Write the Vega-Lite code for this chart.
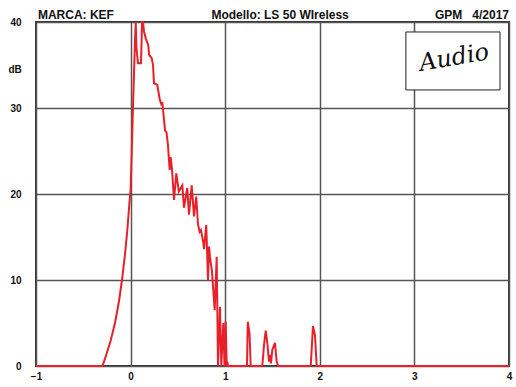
{
  "$schema": "https://vega.github.io/schema/vega-lite/v6.json",
  "autosize": "none",
  "width": 473,
  "height": 344,
  "padding": {"left": 36, "top": 22, "right": 7, "bottom": 21},
  "background": "white",
  "config": {
    "view": {"stroke": "#333333", "strokeWidth": 2},
    "font": "Liberation Sans"
  },
  "layer": [
    {
      "data": {"values": [
        {"f": -1.0, "db": 0}, {"f": -0.297, "db": 0}, {"f": -0.26, "db": 1.2}, {"f": -0.21, "db": 3},
        {"f": -0.165, "db": 5}, {"f": -0.123, "db": 7.5}, {"f": -0.091, "db": 10}, {"f": -0.059, "db": 13},
        {"f": -0.033, "db": 16}, {"f": -0.012, "db": 19}, {"f": 0.0, "db": 20.5}, {"f": 0.01, "db": 24},
        {"f": 0.02, "db": 28}, {"f": 0.025, "db": 30}, {"f": 0.036, "db": 34}, {"f": 0.047, "db": 38},
        {"f": 0.054, "db": 40}, {"f": 0.062, "db": 37}, {"f": 0.078, "db": 35.2}, {"f": 0.11, "db": 35.2},
        {"f": 0.121, "db": 40}, {"f": 0.131, "db": 40}, {"f": 0.142, "db": 38.9}, {"f": 0.16, "db": 38.1},
        {"f": 0.187, "db": 37.3}, {"f": 0.195, "db": 36.2}, {"f": 0.223, "db": 35.8}, {"f": 0.237, "db": 35.0},
        {"f": 0.247, "db": 32.9}, {"f": 0.282, "db": 32.7}, {"f": 0.308, "db": 31.0}, {"f": 0.329, "db": 30.3},
        {"f": 0.335, "db": 30.7}, {"f": 0.364, "db": 27.4}, {"f": 0.379, "db": 27.2}, {"f": 0.395, "db": 25.7},
        {"f": 0.413, "db": 22.8}, {"f": 0.424, "db": 24.3}, {"f": 0.438, "db": 22.8}, {"f": 0.459, "db": 19.3},
        {"f": 0.483, "db": 22.4}, {"f": 0.51, "db": 20.3}, {"f": 0.547, "db": 21.0}, {"f": 0.564, "db": 18.4},
        {"f": 0.599, "db": 20.7}, {"f": 0.617, "db": 17.6}, {"f": 0.646, "db": 21.0}, {"f": 0.67, "db": 17.4},
        {"f": 0.694, "db": 19.7}, {"f": 0.712, "db": 16.5}, {"f": 0.73, "db": 15.6}, {"f": 0.744, "db": 15.8},
        {"f": 0.769, "db": 14.3}, {"f": 0.776, "db": 13.6}, {"f": 0.8, "db": 16.4}, {"f": 0.818, "db": 10},
        {"f": 0.829, "db": 13.9}, {"f": 0.839, "db": 12.7}, {"f": 0.86, "db": 11}, {"f": 0.889, "db": 6.5},
        {"f": 0.91, "db": 12.7}, {"f": 0.924, "db": 0}, {"f": 0.945, "db": 6.9}, {"f": 0.959, "db": 0},
        {"f": 0.98, "db": 5}, {"f": 0.993, "db": 0}, {"f": 1.005, "db": 5.2}, {"f": 1.016, "db": 0},
        {"f": 1.022, "db": 0.5}, {"f": 1.03, "db": 0}, {"f": 1.23, "db": 0}, {"f": 1.239, "db": 5.15},
        {"f": 1.257, "db": 3.8}, {"f": 1.27, "db": 0}, {"f": 1.392, "db": 0}, {"f": 1.41, "db": 2.4},
        {"f": 1.428, "db": 4.1}, {"f": 1.445, "db": 2.7}, {"f": 1.463, "db": 0.5}, {"f": 1.474, "db": 1.3},
        {"f": 1.484, "db": 0.3}, {"f": 1.498, "db": 1.9}, {"f": 1.526, "db": 2.7}, {"f": 1.544, "db": 0.5},
        {"f": 1.561, "db": 0}, {"f": 1.904, "db": 0}, {"f": 1.928, "db": 4.65}, {"f": 1.949, "db": 3.6},
        {"f": 1.967, "db": 0}, {"f": 4.0, "db": 0}
      ]},
      "mark": {"type": "line", "color": "#e8202a", "strokeWidth": 2},
      "encoding": {
        "x": {
          "field": "f", "type": "quantitative",
          "scale": {"domain": [-1, 4], "nice": false, "zero": false},
          "axis": {
            "values": [-1, 0, 1, 2, 3, 4], "format": "d", "title": null, "domain": false, "ticks": false,
            "grid": true, "gridColor": "#555555", "gridWidth": 1.5, "gridOpacity": 1,
            "labelFont": "Liberation Sans", "labelFontSize": 10, "labelFontWeight": "bold",
            "labelColor": "#111111", "labelPadding": 5, "labelBound": false, "labelOverlap": false,
            "labelFlush": false
          }
        },
        "y": {
          "field": "db", "type": "quantitative",
          "scale": {"domain": [0, 40], "nice": false},
          "axis": {
            "values": [0, 10, 20, 30, 40], "title": "dB", "titleAngle": 0, "titleAlign": "left",
            "titleBaseline": "middle", "titleX": -28, "titleY": 47, "titleFontSize": 10,
            "titleFontWeight": "bold", "titleFont": "Liberation Sans", "titleColor": "#111111",
            "domain": false, "ticks": false,
            "grid": true, "gridColor": "#555555", "gridWidth": 1.5, "gridOpacity": 1,
            "labelFont": "Liberation Sans", "labelFontSize": 10, "labelFontWeight": "bold",
            "labelColor": "#111111", "labelPadding": 15, "labelOverlap": false
          }
        }
      }
    },
    {
      "data": {"values": [
        {"x1": 2.91, "x2": 3.905, "y1": 32.1, "y2": 38.84}
      ]},
      "mark": {"type": "rect", "fill": "white", "stroke": "#222222", "strokeWidth": 1},
      "encoding": {
        "x": {"field": "x1", "type": "quantitative"},
        "x2": {"field": "x2"},
        "y": {"field": "y1", "type": "quantitative"},
        "y2": {"field": "y2"}
      }
    },
    {
      "data": {"values": [
        {"x": 3.42, "y": 35.8, "t": "Audio"}
      ]},
      "mark": {"type": "text", "font": "DejaVu Serif", "fontStyle": "italic", "fontSize": 24, "color": "#111111", "align": "center", "baseline": "middle", "angle": 350},
      "encoding": {
        "x": {"field": "x", "type": "quantitative"},
        "y": {"field": "y", "type": "quantitative"},
        "text": {"field": "t"}
      }
    },
    {
      "data": {"values": [
        {"x": -0.98, "y": 40.85, "t": "MARCA: KEF"}
      ]},
      "mark": {"type": "text", "font": "Liberation Sans", "fontWeight": "bold", "fontSize": 12, "color": "#111111", "baseline": "middle", "align": "left"},
      "encoding": {
        "x": {"field": "x", "type": "quantitative"},
        "y": {"field": "y", "type": "quantitative"},
        "text": {"field": "t"}
      }
    },
    {
      "data": {"values": [
        {"x": 1.58, "y": 40.85, "t": "Modello: LS 50 WIreless"}
      ]},
      "mark": {"type": "text", "font": "Liberation Sans", "fontWeight": "bold", "fontSize": 12, "color": "#111111", "baseline": "middle", "align": "center"},
      "encoding": {
        "x": {"field": "x", "type": "quantitative"},
        "y": {"field": "y", "type": "quantitative"},
        "text": {"field": "t"}
      }
    },
    {
      "data": {"values": [
        {"x": 4.0, "y": 40.85, "t": "GPM\u00a0\u00a0\u00a04/2017"}
      ]},
      "mark": {"type": "text", "font": "Liberation Sans", "fontWeight": "bold", "fontSize": 12, "color": "#111111", "baseline": "middle", "align": "right"},
      "encoding": {
        "x": {"field": "x", "type": "quantitative"},
        "y": {"field": "y", "type": "quantitative"},
        "text": {"field": "t"}
      }
    }
  ]
}
